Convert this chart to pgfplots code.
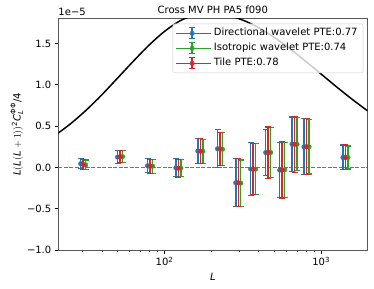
\documentclass[border=0pt]{standalone}
\usepackage{pgfplots}
\pgfplotsset{compat=1.18}
\usepackage{pgfplotstable}
\usepackage{amsmath}
\usepackage{fontspec}
\setmainfont{DejaVu Sans}
\definecolor{cblue}{HTML}{1F77B4}
\definecolor{cgreen}{HTML}{2CA02C}
\definecolor{cred}{HTML}{D62728}

\pgfplotstableread{
L v
20.9 0.414
25.1 0.527
31.6 0.692
39.8 0.878
50.1 1.080
63.1 1.283
79.4 1.477
100 1.646
125.9 1.775
158.5 1.851
190 1.870
199.5 1.869
251.2 1.843
316.2 1.783
398.1 1.692
501.2 1.575
631 1.437
794.3 1.286
1000 1.129
1258.9 0.972
1584.9 0.821
1995.3 0.679
}\theory

\pgfplotstableread{
L v e
29.2 0.045 0.060
50.2 0.125 0.075
78.0 0.020 0.085
118.2 -0.005 0.110
163.3 0.197 0.150
218 0.225 0.230
285.1 -0.186 0.290
354.9 -0.020 0.320
442.6 0.180 0.280
543.9 -0.033 0.330
651.9 0.280 0.330
777.2 0.250 0.340
1378 0.120 0.150
}\dirw

\pgfplotstableread{
L v e
31.4 0.030 0.060
54.0 0.130 0.070
83.9 0.015 0.085
127.1 -0.010 0.105
175.6 0.195 0.145
234.4 0.220 0.200
306.6 -0.190 0.280
381.6 -0.020 0.310
476 0.180 0.300
584.9 -0.030 0.330
701 0.280 0.320
835.8 0.250 0.330
1482 0.120 0.140
}\isow

\pgfplotstableread{
L v e
30.3 0.035 0.065
52.1 0.130 0.070
80.9 0.012 0.085
122.6 -0.010 0.110
169.3 0.197 0.150
226 0.225 0.200
295.7 -0.186 0.290
368 -0.020 0.310
459 0.180 0.310
564 -0.030 0.340
676 0.280 0.340
806 0.250 0.340
1429 0.120 0.150
}\tile

\pgfplotsset{
  ebar/.style={only marks, mark=*, mark size=2.3bp, color=#1,
    mark options={draw=#1, fill=#1},
    error bars/.cd, y dir=both, y explicit,
    error bar style={line width=1.5bp, color=#1},
    error mark options={rotate=90, mark size=3bp, line width=1.2bp, color=#1},
    /pgfplots/.cd},
  eleg/.style={legend image code/.code={
    \draw[#1, line width=1.5bp] (16bp,-5.5bp) -- (16bp,5.5bp);
    \draw[#1, line width=1.2bp] (13bp,-5.5bp) -- (19bp,-5.5bp) (13bp,5.5bp) -- (19bp,5.5bp);
    \fill[#1] (16bp,0bp) circle (2.3bp);
    \path (0bp,0bp) -- (35bp,0bp);
  }}
}

\begin{document}
\fontsize{10bp}{12bp}\selectfont
\begin{tikzpicture}
\path[use as bounding box] (-58.3bp,-39bp) rectangle (315.7bp,250bp);
\begin{axis}[
  name=ax,
  at={(0,0)}, anchor=south west,
  scale only axis, width=309bp, height=231.3bp,
  font=\fontsize{10bp}{12bp}\selectfont,
  xmode=log, xmin=21, xmax=1970, ymin=-1.0, ymax=1.8,
  xtick={100,1000}, xticklabels={10\textsuperscript{2},10\textsuperscript{3}},
  minor xtick={30,40,50,60,70,80,90,200,300,400,500,600,700,800,900},
  ytick={-1,-0.5,0,0.5,1,1.5},
  yticklabels={−1.0,−0.5,0.0,0.5,1.0,1.5},
  xtick pos=bottom, ytick pos=left,
  tick align=outside,
  major tick length=3.5bp, minor tick length=2bp,
  tick style={black, line width=0.8bp},
  axis line style={black!65, line width=1bp},
  title={Cross MV PH PA5 f090},
  every axis title/.style={at={(0.5,1)}, anchor=base, yshift=5bp},
  xlabel={\itshape L},
  every axis x label/.style={at={(axis description cs:0.5,0)}, anchor=base, yshift=-30bp},
  ylabel={$\text{\itshape L}(\text{\itshape L}(\text{\itshape L}+1))^{\text{2}}\text{\itshape C}_{\text{\itshape L}}^{\text{ΦΦ}}\text{/4}$},
  every axis y label/.style={at={(axis description cs:-0.134,0.5)}, anchor=center, rotate=90},
  legend cell align=left,
  legend style={at={(1,1)}, anchor=north east, xshift=-4bp, yshift=-5bp,
    draw=black!20, rounded corners=2bp, fill=white, fill opacity=0.8, text opacity=1,
    inner xsep=3bp, inner ysep=2bp,
    nodes={text height=7.5bp, text depth=2.5bp, inner sep=2.5bp},
    font=\fontsize{10bp}{12bp}\selectfont},
]
\addplot[black, line width=1.5bp, smooth, forget plot] table[x=L, y=v] {\theory};
\addplot[black!55, line width=0.9bp, dash pattern=on 3.7bp off 1.8bp, forget plot] coordinates {(21,0) (1970,0)};
\addplot[eleg=cblue, ebar=cblue] table[x=L, y=v, y error=e] {\dirw};
\addlegendentry{Directional wavelet PTE:0.77}
\addplot[eleg=cgreen, ebar=cgreen] table[x=L, y=v, y error=e] {\isow};
\addlegendentry{Isotropic wavelet PTE:0.74}
\addplot[eleg=cred, ebar=cred] table[x=L, y=v, y error=e] {\tile};
\addlegendentry{Tile PTE:0.78}
\end{axis}
\node[anchor=base west, inner sep=0pt, font=\fontsize{10bp}{12bp}\selectfont] at ([yshift=3bp]ax.north west) {1e−5};
\end{tikzpicture}
\end{document}
